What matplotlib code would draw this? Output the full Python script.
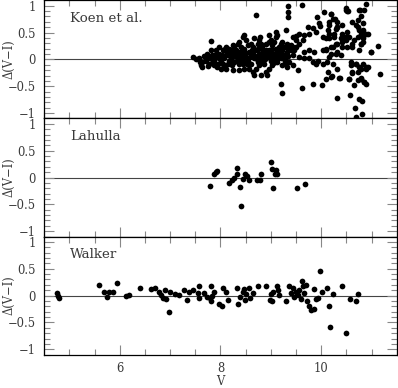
"""Delta(V-I) residuals vs V for three comparison sources."""

import numpy as np
import matplotlib.pyplot as plt
from matplotlib.ticker import MultipleLocator, FixedFormatter, FixedLocator

plt.rcParams['font.family'] = ['DejaVu Serif']

# Koen et al. comparison (V, delta(V-I))
koen_v = [
    7.45, 7.59, 7.64, 7.81, 8.70, 9.35, 9.35, 9.35, 9.62, 9.91, 10.05, 10.20, 10.28,
    10.49, 10.54, 10.75, 10.89, 10.79, 10.62, 10.72, 10.82, 10.92, 11.12, 10.98, 11.16,
    9.20, 9.22, 9.62, 9.84, 10.01, 10.09, 10.22, 10.38, 10.32, 10.57, 10.55, 10.62,
    10.75, 10.81, 10.67, 10.69, 10.80, 10.72, 10.79, 10.85, 10.89, 10.89, 10.60, 10.69,
    10.79,
    9.73, 9.84, 9.96, 9.98, 10.16, 10.32, 10.41, 10.42, 10.26, 10.16, 10.09, 10.03,
    9.89, 9.76, 9.66, 9.56, 9.50, 9.43, 9.30, 9.11, 9.13, 8.97, 8.78, 8.67, 8.47,
    8.44, 8.55, 8.34, 8.24, 8.11, 7.98, 10.49, 10.55, 10.72, 10.82, 10.79, 10.62,
    10.42, 10.29, 10.19, 10.09, 10.03, 9.86, 9.76, 9.66, 9.56, 9.63, 9.43, 9.33,
    9.23, 9.17, 9.07, 9.00, 8.90, 8.83, 8.74, 8.64, 10.29, 10.39, 10.16, 9.93, 9.83,
    9.89, 10.03, 10.12, 9.76, 9.66, 9.56, 9.43, 9.30, 9.36, 9.43, 9.53, 9.33, 9.23,
    9.13, 9.03, 8.97, 8.90, 8.93, 8.80, 8.67, 8.64, 8.70, 8.57, 8.47, 8.37, 8.24,
    8.11, 8.01, 7.94, 7.88,
    7.51, 7.57, 7.68, 7.71, 7.74, 7.79, 7.84, 7.88, 7.91, 7.94, 7.98, 8.01, 8.04,
    8.07, 8.11, 8.14, 8.17, 8.21, 8.24, 8.27, 8.31, 8.34, 8.37, 8.41, 8.44, 8.47,
    8.50, 8.54, 8.57, 8.60, 8.64, 8.67, 8.70, 8.74, 8.77, 8.80, 8.83, 8.87, 8.90,
    8.93, 8.97, 9.00, 9.03, 9.07, 9.10, 9.13, 9.17, 9.20, 9.23, 9.26, 9.30, 9.33,
    9.36, 9.40, 9.46, 9.50, 7.78, 7.81, 7.86, 7.96, 8.03, 8.09, 8.16, 8.23, 8.29,
    8.36, 8.42, 8.49, 8.56, 8.62, 8.69, 8.76, 8.82, 8.89, 8.95, 9.02, 9.09, 9.15,
    9.22, 9.28, 9.35, 7.64, 7.72, 7.83, 7.92, 7.99, 8.05, 8.12, 8.19, 8.25, 8.32,
    8.39, 8.45, 8.52, 8.58, 8.65, 8.72, 8.78, 8.85, 8.91, 8.98, 9.05, 9.11, 9.18,
    9.25, 9.31, 7.61, 7.76, 7.90, 8.07, 8.21, 8.34, 8.47, 8.60, 8.74, 8.87, 9.00,
    9.13, 9.26, 9.40, 9.50, 9.10, 8.97, 8.80, 8.60, 8.41, 8.27, 8.16, 8.37, 8.50,
    8.77, 9.03, 9.20,
    10.49, 10.52, 10.77, 10.85, 10.19, 10.23, 10.32, 10.72, 10.69, 10.82, 10.16,
    10.29, 10.32, 10.75, 10.89, 10.79, 10.13, 10.52, 10.49, 10.39, 10.26, 10.16,
    10.66, 10.79, 10.82, 10.42, 10.32, 10.23, 10.09, 10.19, 10.32, 10.52, 10.62,
    10.75, 10.99, 10.23, 10.32, 10.13, 10.36, 10.19, 10.56, 10.62, 10.72, 10.69,
    10.75, 10.79, 10.85, 10.89, 10.92, 10.59, 10.82, 10.66,
]
koen_dvi = [
    0.05, -0.05, -0.14, 0.34, 0.82, 0.99, 0.88, 0.79, 1.01, 0.79, 0.88, 0.84, 0.76,
    0.93, 0.91, 0.93, 1.04, 0.80, 0.70, 0.60, 0.54, 0.48, 0.25, 0.14, -0.28,
    -0.45, -0.63, -0.53, -0.45, -0.47, -0.36, -0.31, -0.34, -0.72, -0.67, -0.37, -0.26,
    -0.73, -0.77, -0.90, -1.08, -1.02, -0.39, -0.34, -0.42, -0.45, -0.14, -0.11, -0.08,
    -0.17,
    0.60, 0.59, 0.67, 0.62, 0.70, 0.60, 0.64, 0.48, 0.48, 0.48, 0.39, 0.42,
    0.51, 0.48, 0.45, 0.48, 0.43, 0.41, 0.55, 0.51, 0.45, 0.45, 0.41, 0.39, 0.45,
    0.42, 0.26, 0.28, 0.26, 0.23, 0.23, 0.36, 0.42, 0.42, 0.33, 0.29, 0.29,
    0.23, 0.29, 0.23, 0.20, 0.17, 0.14, 0.17, 0.14, 0.29, 0.36, 0.23, 0.29,
    0.33, 0.23, 0.33, 0.36, 0.29, 0.23, 0.29, 0.23, 0.11, 0.08, 0.05, -0.02, -0.05,
    -0.09, -0.08, -0.05, 0.02, 0.02, 0.05, 0.08, 0.05, -0.05, -0.11, -0.20, -0.14, -0.11,
    -0.05, -0.11, -0.17, -0.23, -0.29, -0.29, -0.29, -0.23, -0.17, -0.17, -0.17, -0.20, -0.20,
    -0.17, -0.17, -0.14, -0.11,
    0.00, 0.03, 0.06, -0.03, 0.11, 0.02, 0.08, -0.02, 0.17, 0.05, 0.11, -0.05, 0.17,
    0.02, 0.08, -0.08, 0.14, 0.02, 0.11, -0.05, 0.17, 0.05, -0.02, 0.11, -0.08, 0.20,
    0.05, -0.02, 0.14, -0.08, 0.08, 0.02, 0.17, -0.05, 0.11, 0.02, 0.20, -0.08, 0.11,
    0.05, 0.17, -0.02, 0.11, 0.05, 0.20, 0.08, 0.14, 0.02, 0.17, 0.08, 0.23, 0.14,
    0.20, 0.17, 0.17, 0.23, -0.08, 0.17, -0.05, -0.08, 0.08, 0.20, -0.02, -0.11, 0.06,
    -0.09, 0.03, 0.12, -0.11, 0.18, 0.06, -0.11, 0.12, 0.00, 0.10, 0.20, -0.05, 0.03,
    0.11, -0.03, 0.06, -0.05, 0.03, 0.00, 0.11, 0.00, -0.08, 0.12, 0.06, 0.18, -0.03,
    0.14, 0.08, -0.08, 0.05, 0.14, 0.00, 0.06, -0.05, 0.17, 0.03, -0.06, 0.12, 0.23,
    0.03, -0.08, -0.10, -0.13, 0.03, -0.14, 0.17, 0.12, -0.05, 0.11, 0.20, 0.08, 0.11,
    0.17, 0.23, 0.26, 0.36, 0.42, 0.33, 0.29, 0.29, 0.23, 0.23, 0.20, 0.33, 0.36,
    0.36, 0.26, 0.29,
    0.95, 0.91, 0.93, 0.93, 0.85, 0.76, 0.70, 0.74, 0.64, 0.67, 0.64,
    0.57, 0.60, 0.54, 0.48, 0.48, 0.54, 0.51, 0.42, 0.39, 0.42, 0.39,
    0.36, 0.29, 0.39, 0.33, 0.29, 0.23, 0.17, 0.11, 0.14, 0.23, 0.23,
    0.17, 0.14, -0.08, -0.17, -0.23, -0.34, -0.32, -0.37, -0.23, -0.23, -0.08,
    -0.14, -0.36, -0.42, -0.17, -0.14, -0.05, -0.08, -0.48,
]

# Lahulla comparison
lahulla_v = [7.79, 7.88, 7.91, 7.93, 8.16, 8.22, 8.27, 8.32, 8.32, 8.38, 8.40, 8.44,
             8.49, 8.52, 8.57, 8.72, 8.78, 8.81, 9.00, 9.03, 9.05, 9.09, 9.11, 9.13,
             9.51, 9.67]
lahulla_dvi = [-0.16, 0.06, 0.10, 0.12, -0.11, -0.05, -0.01, 0.18, 0.07, -0.18, -0.54,
               -0.02, 0.06, 0.02, -0.04, -0.05, -0.04, 0.07, 0.28, 0.15, -0.19, 0.07,
               0.14, 0.06, -0.20, -0.13]

# Walker comparison
walker_v = [4.75, 4.77, 4.79, 5.59, 5.69, 5.74, 5.78, 5.86, 5.94, 6.12, 6.19, 6.41,
            6.62, 6.69, 6.78, 6.82, 6.85, 6.90, 6.92, 6.98, 7.00, 7.10, 7.18, 7.28,
            7.33, 7.37, 7.45, 7.55, 7.57, 7.58, 7.68, 7.74, 7.79, 7.81, 7.82, 7.84,
            7.88, 7.97, 8.03, 8.05, 8.11, 8.14, 8.32, 8.34, 8.39, 8.44, 8.47, 8.49,
            8.50, 8.57, 8.58, 8.64, 8.74, 8.90, 8.98, 9.00, 9.03, 9.05, 9.13, 9.15,
            9.17, 9.31, 9.36, 9.40, 9.43, 9.46, 9.50, 9.53, 9.56, 9.59, 9.62, 9.64,
            9.66, 9.69, 9.71, 9.75, 9.79, 9.86, 9.86, 9.89, 9.94, 9.97, 10.02, 10.11,
            10.16, 10.17, 10.24, 10.42, 10.49, 10.57, 10.69, 10.72]
walker_dvi = [0.04, -0.01, -0.05, 0.20, 0.06, -0.02, 0.07, 0.07, 0.24, -0.01, 0.02,
              0.15, 0.12, 0.14, 0.07, 0.01, -0.05, 0.10, -0.07, -0.31, 0.06, 0.03,
              0.01, 0.10, -0.09, 0.07, 0.10, 0.04, 0.17, -0.05, 0.04, -0.02, -0.05,
              0.17, -0.11, -0.01, 0.07, -0.15, -0.19, 0.14, 0.06, -0.09, 0.14, -0.15,
              -0.02, 0.07, 0.12, -0.08, 0.03, 0.14, -0.05, 0.04, 0.17, 0.17, -0.08,
              0.03, -0.11, 0.07, 0.17, 0.10, 0.01, -0.11, 0.17, 0.04, 0.14, -0.02,
              0.07, 0.01, 0.10, -0.07, 0.28, 0.17, 0.04, 0.20, -0.11, -0.19, -0.27,
              -0.25, 0.12, -0.07, -0.04, 0.46, 0.07, 0.14, -0.20, -0.59, 0.03, 0.17,
              -0.69, -0.07, -0.11, 0.03]

panels = [("Koen et al.", koen_v, koen_dvi),
          ("Lahulla", lahulla_v, lahulla_dvi),
          ("Walker", walker_v, walker_dvi)]

text_col = '#3a3a3a'
fsize = 8.3

fig, axes = plt.subplots(3, 1, sharex=True, figsize=(3.98, 3.88), dpi=100)
fig.subplots_adjust(left=0.111, right=0.997, top=0.999, bottom=0.086, hspace=0)

for ax, (name, v, dvi) in zip(axes, panels):
    ax.axhline(0, color='#444444', lw=0.8, zorder=1)
    ax.scatter(v, dvi, s=17, color='black', linewidths=0, zorder=2)
    ax.set_xlim(4.5, 11.5)
    ax.set_ylim(-1.1, 1.1)
    ax.xaxis.set_major_locator(MultipleLocator(2))
    ax.xaxis.set_minor_locator(MultipleLocator(0.5))
    ax.yaxis.set_major_locator(FixedLocator([-1, -0.5, 0, 0.5, 1]))
    ax.yaxis.set_major_formatter(FixedFormatter(['\u22121', '\u22120.5', '0', '0.5', '1']))
    ax.yaxis.set_minor_locator(MultipleLocator(0.1))
    ax.tick_params(which='both', direction='in', top=True, right=True,
                   color='#888888', width=0.8, labelsize=fsize, labelcolor=text_col)
    ax.tick_params(which='major', length=7)
    ax.tick_params(which='minor', length=4)
    ax.tick_params(axis='y', pad=6)
    ax.tick_params(axis='x', pad=5)
    for sp in ax.spines.values():
        sp.set_linewidth(0.9)
    ax.text(0.074, 0.85, name, transform=ax.transAxes, va='center', ha='left',
            fontsize=9.6, color=text_col)
    ax.set_ylabel('\u0394(V\u2212I)', fontsize=fsize, color=text_col)
    ax.yaxis.set_label_coords(-0.082, 0.5)

axes[-1].set_xlabel('V', fontsize=fsize, color=text_col, labelpad=0)

fig.savefig('out.png', dpi=100)
